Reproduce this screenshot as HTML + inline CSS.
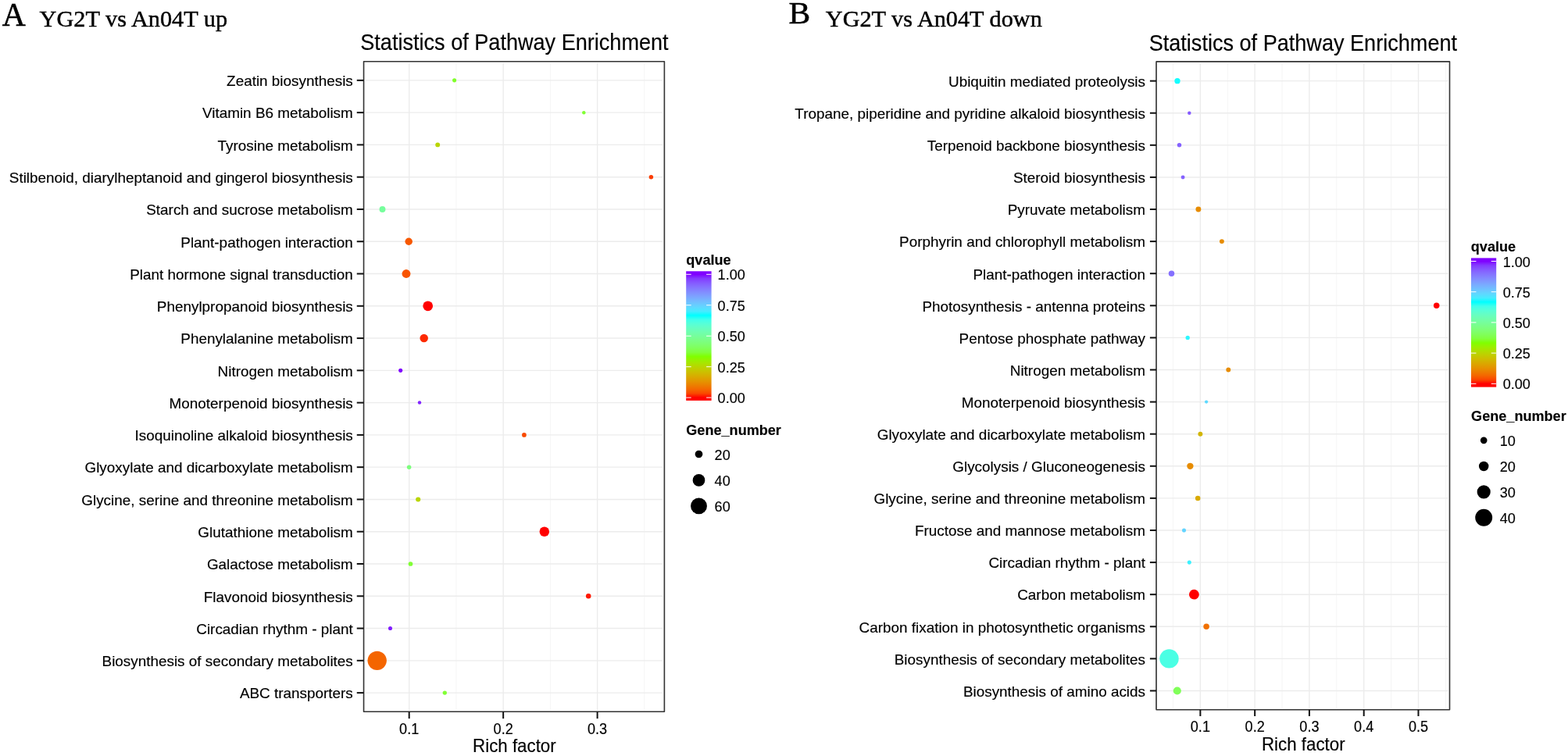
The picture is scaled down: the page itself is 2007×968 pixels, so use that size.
<!DOCTYPE html>
<html><head><meta charset="utf-8"><title>Pathway enrichment</title>
<style>html,body{margin:0;padding:0;background:#fff;}svg{display:block;}</style></head>
<body><svg width="2007" height="968" viewBox="0 0 2007 968">
<rect width="2007" height="968" fill="#fff"/>
<g>
<line x1="583.92" y1="80.7" x2="583.92" y2="909.3" stroke="#f2f2f2" stroke-width="0.8"/>
<line x1="704.38" y1="80.7" x2="704.38" y2="909.3" stroke="#f2f2f2" stroke-width="0.8"/>
<line x1="824.83" y1="80.7" x2="824.83" y2="909.3" stroke="#f2f2f2" stroke-width="0.8"/>
<line x1="523.70" y1="80.7" x2="523.70" y2="909.3" stroke="#ececec" stroke-width="1.4"/>
<line x1="644.15" y1="80.7" x2="644.15" y2="909.3" stroke="#ececec" stroke-width="1.4"/>
<line x1="764.60" y1="80.7" x2="764.60" y2="909.3" stroke="#ececec" stroke-width="1.4"/>
<line x1="467.55" y1="102.86" x2="848.4" y2="102.86" stroke="#ececec" stroke-width="1.4"/>
<line x1="467.55" y1="144.14" x2="848.4" y2="144.14" stroke="#ececec" stroke-width="1.4"/>
<line x1="467.55" y1="185.41" x2="848.4" y2="185.41" stroke="#ececec" stroke-width="1.4"/>
<line x1="467.55" y1="226.69" x2="848.4" y2="226.69" stroke="#ececec" stroke-width="1.4"/>
<line x1="467.55" y1="267.96" x2="848.4" y2="267.96" stroke="#ececec" stroke-width="1.4"/>
<line x1="467.55" y1="309.24" x2="848.4" y2="309.24" stroke="#ececec" stroke-width="1.4"/>
<line x1="467.55" y1="350.52" x2="848.4" y2="350.52" stroke="#ececec" stroke-width="1.4"/>
<line x1="467.55" y1="391.79" x2="848.4" y2="391.79" stroke="#ececec" stroke-width="1.4"/>
<line x1="467.55" y1="433.07" x2="848.4" y2="433.07" stroke="#ececec" stroke-width="1.4"/>
<line x1="467.55" y1="474.34" x2="848.4" y2="474.34" stroke="#ececec" stroke-width="1.4"/>
<line x1="467.55" y1="515.62" x2="848.4" y2="515.62" stroke="#ececec" stroke-width="1.4"/>
<line x1="467.55" y1="556.90" x2="848.4" y2="556.90" stroke="#ececec" stroke-width="1.4"/>
<line x1="467.55" y1="598.17" x2="848.4" y2="598.17" stroke="#ececec" stroke-width="1.4"/>
<line x1="467.55" y1="639.45" x2="848.4" y2="639.45" stroke="#ececec" stroke-width="1.4"/>
<line x1="467.55" y1="680.72" x2="848.4" y2="680.72" stroke="#ececec" stroke-width="1.4"/>
<line x1="467.55" y1="722.00" x2="848.4" y2="722.00" stroke="#ececec" stroke-width="1.4"/>
<line x1="467.55" y1="763.28" x2="848.4" y2="763.28" stroke="#ececec" stroke-width="1.4"/>
<line x1="467.55" y1="804.55" x2="848.4" y2="804.55" stroke="#ececec" stroke-width="1.4"/>
<line x1="467.55" y1="845.83" x2="848.4" y2="845.83" stroke="#ececec" stroke-width="1.4"/>
<line x1="467.55" y1="887.10" x2="848.4" y2="887.10" stroke="#ececec" stroke-width="1.4"/>
<circle cx="581.60" cy="102.86" r="2.55" fill="#80ff29"/>
<circle cx="747.30" cy="144.14" r="2.25" fill="#81ff35"/>
<circle cx="560.20" cy="185.41" r="2.95" fill="#b9d500"/>
<circle cx="833.40" cy="226.69" r="2.75" fill="#fb3d00"/>
<circle cx="489.50" cy="267.96" r="3.95" fill="#76fe9c"/>
<circle cx="523.20" cy="309.24" r="4.75" fill="#f75800"/>
<circle cx="520.00" cy="350.52" r="5.45" fill="#f85400"/>
<circle cx="547.70" cy="391.79" r="6.35" fill="#ff0000"/>
<circle cx="542.70" cy="433.07" r="5.25" fill="#fd2900"/>
<circle cx="512.70" cy="474.34" r="2.55" fill="#8000ff"/>
<circle cx="537.00" cy="515.62" r="2.25" fill="#8225ff"/>
<circle cx="670.90" cy="556.90" r="2.85" fill="#f94900"/>
<circle cx="523.60" cy="598.17" r="2.75" fill="#7dfe7d"/>
<circle cx="535.20" cy="639.45" r="3.05" fill="#b9d500"/>
<circle cx="696.80" cy="680.72" r="6.25" fill="#ff0000"/>
<circle cx="525.50" cy="722.00" r="2.85" fill="#81ff35"/>
<circle cx="753.20" cy="763.28" r="3.25" fill="#fe1800"/>
<circle cx="499.50" cy="804.55" r="2.55" fill="#811dff"/>
<circle cx="482.70" cy="845.83" r="12.20" fill="#f46500"/>
<circle cx="569.30" cy="887.10" r="2.65" fill="#81ff35"/>
<rect x="465.55" y="78.7" width="384.85" height="832.60" fill="none" stroke="#333" stroke-width="1.6" stroke-linejoin="round"/>
<line x1="456.75" y1="102.86" x2="465.55" y2="102.86" stroke="#111" stroke-width="2.0"/>
<text transform="translate(451.80,110.16) scale(1,1.02)" font-family="'Liberation Sans', Arial, Helvetica, sans-serif" font-size="18.9" text-anchor="end" stroke="#000" stroke-width="0.15" fill="#000">Zeatin biosynthesis</text>
<line x1="456.75" y1="144.14" x2="465.55" y2="144.14" stroke="#111" stroke-width="2.0"/>
<text transform="translate(451.80,151.44) scale(1,1.02)" font-family="'Liberation Sans', Arial, Helvetica, sans-serif" font-size="18.9" text-anchor="end" stroke="#000" stroke-width="0.15" fill="#000">Vitamin B6 metabolism</text>
<line x1="456.75" y1="185.41" x2="465.55" y2="185.41" stroke="#111" stroke-width="2.0"/>
<text transform="translate(451.80,192.71) scale(1,1.02)" font-family="'Liberation Sans', Arial, Helvetica, sans-serif" font-size="18.9" text-anchor="end" stroke="#000" stroke-width="0.15" fill="#000">Tyrosine metabolism</text>
<line x1="456.75" y1="226.69" x2="465.55" y2="226.69" stroke="#111" stroke-width="2.0"/>
<text transform="translate(451.80,233.99) scale(1,1.02)" font-family="'Liberation Sans', Arial, Helvetica, sans-serif" font-size="18.9" text-anchor="end" stroke="#000" stroke-width="0.15" fill="#000">Stilbenoid, diarylheptanoid and gingerol biosynthesis</text>
<line x1="456.75" y1="267.96" x2="465.55" y2="267.96" stroke="#111" stroke-width="2.0"/>
<text transform="translate(451.80,275.26) scale(1,1.02)" font-family="'Liberation Sans', Arial, Helvetica, sans-serif" font-size="18.9" text-anchor="end" stroke="#000" stroke-width="0.15" fill="#000">Starch and sucrose metabolism</text>
<line x1="456.75" y1="309.24" x2="465.55" y2="309.24" stroke="#111" stroke-width="2.0"/>
<text transform="translate(451.80,316.54) scale(1,1.02)" font-family="'Liberation Sans', Arial, Helvetica, sans-serif" font-size="18.9" text-anchor="end" stroke="#000" stroke-width="0.15" fill="#000">Plant-pathogen interaction</text>
<line x1="456.75" y1="350.52" x2="465.55" y2="350.52" stroke="#111" stroke-width="2.0"/>
<text transform="translate(451.80,357.82) scale(1,1.02)" font-family="'Liberation Sans', Arial, Helvetica, sans-serif" font-size="18.9" text-anchor="end" stroke="#000" stroke-width="0.15" fill="#000">Plant hormone signal transduction</text>
<line x1="456.75" y1="391.79" x2="465.55" y2="391.79" stroke="#111" stroke-width="2.0"/>
<text transform="translate(451.80,399.09) scale(1,1.02)" font-family="'Liberation Sans', Arial, Helvetica, sans-serif" font-size="18.9" text-anchor="end" stroke="#000" stroke-width="0.15" fill="#000">Phenylpropanoid biosynthesis</text>
<line x1="456.75" y1="433.07" x2="465.55" y2="433.07" stroke="#111" stroke-width="2.0"/>
<text transform="translate(451.80,440.37) scale(1,1.02)" font-family="'Liberation Sans', Arial, Helvetica, sans-serif" font-size="18.9" text-anchor="end" stroke="#000" stroke-width="0.15" fill="#000">Phenylalanine metabolism</text>
<line x1="456.75" y1="474.34" x2="465.55" y2="474.34" stroke="#111" stroke-width="2.0"/>
<text transform="translate(451.80,481.64) scale(1,1.02)" font-family="'Liberation Sans', Arial, Helvetica, sans-serif" font-size="18.9" text-anchor="end" stroke="#000" stroke-width="0.15" fill="#000">Nitrogen metabolism</text>
<line x1="456.75" y1="515.62" x2="465.55" y2="515.62" stroke="#111" stroke-width="2.0"/>
<text transform="translate(451.80,522.92) scale(1,1.02)" font-family="'Liberation Sans', Arial, Helvetica, sans-serif" font-size="18.9" text-anchor="end" stroke="#000" stroke-width="0.15" fill="#000">Monoterpenoid biosynthesis</text>
<line x1="456.75" y1="556.90" x2="465.55" y2="556.90" stroke="#111" stroke-width="2.0"/>
<text transform="translate(451.80,564.20) scale(1,1.02)" font-family="'Liberation Sans', Arial, Helvetica, sans-serif" font-size="18.9" text-anchor="end" stroke="#000" stroke-width="0.15" fill="#000">Isoquinoline alkaloid biosynthesis</text>
<line x1="456.75" y1="598.17" x2="465.55" y2="598.17" stroke="#111" stroke-width="2.0"/>
<text transform="translate(451.80,605.47) scale(1,1.02)" font-family="'Liberation Sans', Arial, Helvetica, sans-serif" font-size="18.9" text-anchor="end" stroke="#000" stroke-width="0.15" fill="#000">Glyoxylate and dicarboxylate metabolism</text>
<line x1="456.75" y1="639.45" x2="465.55" y2="639.45" stroke="#111" stroke-width="2.0"/>
<text transform="translate(451.80,646.75) scale(1,1.02)" font-family="'Liberation Sans', Arial, Helvetica, sans-serif" font-size="18.9" text-anchor="end" stroke="#000" stroke-width="0.15" fill="#000">Glycine, serine and threonine metabolism</text>
<line x1="456.75" y1="680.72" x2="465.55" y2="680.72" stroke="#111" stroke-width="2.0"/>
<text transform="translate(451.80,688.02) scale(1,1.02)" font-family="'Liberation Sans', Arial, Helvetica, sans-serif" font-size="18.9" text-anchor="end" stroke="#000" stroke-width="0.15" fill="#000">Glutathione metabolism</text>
<line x1="456.75" y1="722.00" x2="465.55" y2="722.00" stroke="#111" stroke-width="2.0"/>
<text transform="translate(451.80,729.30) scale(1,1.02)" font-family="'Liberation Sans', Arial, Helvetica, sans-serif" font-size="18.9" text-anchor="end" stroke="#000" stroke-width="0.15" fill="#000">Galactose metabolism</text>
<line x1="456.75" y1="763.28" x2="465.55" y2="763.28" stroke="#111" stroke-width="2.0"/>
<text transform="translate(451.80,770.58) scale(1,1.02)" font-family="'Liberation Sans', Arial, Helvetica, sans-serif" font-size="18.9" text-anchor="end" stroke="#000" stroke-width="0.15" fill="#000">Flavonoid biosynthesis</text>
<line x1="456.75" y1="804.55" x2="465.55" y2="804.55" stroke="#111" stroke-width="2.0"/>
<text transform="translate(451.80,811.85) scale(1,1.02)" font-family="'Liberation Sans', Arial, Helvetica, sans-serif" font-size="18.9" text-anchor="end" stroke="#000" stroke-width="0.15" fill="#000">Circadian rhythm - plant</text>
<line x1="456.75" y1="845.83" x2="465.55" y2="845.83" stroke="#111" stroke-width="2.0"/>
<text transform="translate(451.80,853.13) scale(1,1.02)" font-family="'Liberation Sans', Arial, Helvetica, sans-serif" font-size="18.9" text-anchor="end" stroke="#000" stroke-width="0.15" fill="#000">Biosynthesis of secondary metabolites</text>
<line x1="456.75" y1="887.10" x2="465.55" y2="887.10" stroke="#111" stroke-width="2.0"/>
<text transform="translate(451.80,894.40) scale(1,1.02)" font-family="'Liberation Sans', Arial, Helvetica, sans-serif" font-size="18.9" text-anchor="end" stroke="#000" stroke-width="0.15" fill="#000">ABC transporters</text>
<line x1="523.70" y1="911.3" x2="523.70" y2="920.10" stroke="#111" stroke-width="2.0"/>
<text transform="translate(523.70,939.60) scale(1,1.09)" font-family="'Liberation Sans', Arial, Helvetica, sans-serif" font-size="18.1" text-anchor="middle" stroke="#000" stroke-width="0.15" fill="#000">0.1</text>
<line x1="644.15" y1="911.3" x2="644.15" y2="920.10" stroke="#111" stroke-width="2.0"/>
<text transform="translate(644.15,939.60) scale(1,1.09)" font-family="'Liberation Sans', Arial, Helvetica, sans-serif" font-size="18.1" text-anchor="middle" stroke="#000" stroke-width="0.15" fill="#000">0.2</text>
<line x1="764.60" y1="911.3" x2="764.60" y2="920.10" stroke="#111" stroke-width="2.0"/>
<text transform="translate(764.60,939.60) scale(1,1.09)" font-family="'Liberation Sans', Arial, Helvetica, sans-serif" font-size="18.1" text-anchor="middle" stroke="#000" stroke-width="0.15" fill="#000">0.3</text>
<text transform="translate(658.40,963.30) scale(1,1.04)" font-family="'Liberation Sans', Arial, Helvetica, sans-serif" font-size="22.3" text-anchor="middle" stroke="#000" stroke-width="0.15" fill="#000">Rich factor</text>
<text transform="translate(658.45,64.40) scale(1,1.07)" font-family="'Liberation Sans', Arial, Helvetica, sans-serif" font-size="27.1" text-anchor="middle" stroke="#000" stroke-width="0.15" fill="#000">Statistics of Pathway Enrichment</text>
<line x1="1501.49" y1="80.9" x2="1501.49" y2="906.8" stroke="#f2f2f2" stroke-width="0.8"/>
<line x1="1571.26" y1="80.9" x2="1571.26" y2="906.8" stroke="#f2f2f2" stroke-width="0.8"/>
<line x1="1641.04" y1="80.9" x2="1641.04" y2="906.8" stroke="#f2f2f2" stroke-width="0.8"/>
<line x1="1710.81" y1="80.9" x2="1710.81" y2="906.8" stroke="#f2f2f2" stroke-width="0.8"/>
<line x1="1780.59" y1="80.9" x2="1780.59" y2="906.8" stroke="#f2f2f2" stroke-width="0.8"/>
<line x1="1850.36" y1="80.9" x2="1850.36" y2="906.8" stroke="#f2f2f2" stroke-width="0.8"/>
<line x1="1536.38" y1="80.9" x2="1536.38" y2="906.8" stroke="#ececec" stroke-width="1.4"/>
<line x1="1606.15" y1="80.9" x2="1606.15" y2="906.8" stroke="#ececec" stroke-width="1.4"/>
<line x1="1675.92" y1="80.9" x2="1675.92" y2="906.8" stroke="#ececec" stroke-width="1.4"/>
<line x1="1745.70" y1="80.9" x2="1745.70" y2="906.8" stroke="#ececec" stroke-width="1.4"/>
<line x1="1815.47" y1="80.9" x2="1815.47" y2="906.8" stroke="#ececec" stroke-width="1.4"/>
<line x1="1482.1" y1="103.64" x2="1853.5" y2="103.64" stroke="#ececec" stroke-width="1.4"/>
<line x1="1482.1" y1="144.74" x2="1853.5" y2="144.74" stroke="#ececec" stroke-width="1.4"/>
<line x1="1482.1" y1="185.83" x2="1853.5" y2="185.83" stroke="#ececec" stroke-width="1.4"/>
<line x1="1482.1" y1="226.93" x2="1853.5" y2="226.93" stroke="#ececec" stroke-width="1.4"/>
<line x1="1482.1" y1="268.03" x2="1853.5" y2="268.03" stroke="#ececec" stroke-width="1.4"/>
<line x1="1482.1" y1="309.12" x2="1853.5" y2="309.12" stroke="#ececec" stroke-width="1.4"/>
<line x1="1482.1" y1="350.22" x2="1853.5" y2="350.22" stroke="#ececec" stroke-width="1.4"/>
<line x1="1482.1" y1="391.32" x2="1853.5" y2="391.32" stroke="#ececec" stroke-width="1.4"/>
<line x1="1482.1" y1="432.42" x2="1853.5" y2="432.42" stroke="#ececec" stroke-width="1.4"/>
<line x1="1482.1" y1="473.51" x2="1853.5" y2="473.51" stroke="#ececec" stroke-width="1.4"/>
<line x1="1482.1" y1="514.61" x2="1853.5" y2="514.61" stroke="#ececec" stroke-width="1.4"/>
<line x1="1482.1" y1="555.71" x2="1853.5" y2="555.71" stroke="#ececec" stroke-width="1.4"/>
<line x1="1482.1" y1="596.80" x2="1853.5" y2="596.80" stroke="#ececec" stroke-width="1.4"/>
<line x1="1482.1" y1="637.90" x2="1853.5" y2="637.90" stroke="#ececec" stroke-width="1.4"/>
<line x1="1482.1" y1="679.00" x2="1853.5" y2="679.00" stroke="#ececec" stroke-width="1.4"/>
<line x1="1482.1" y1="720.10" x2="1853.5" y2="720.10" stroke="#ececec" stroke-width="1.4"/>
<line x1="1482.1" y1="761.19" x2="1853.5" y2="761.19" stroke="#ececec" stroke-width="1.4"/>
<line x1="1482.1" y1="802.29" x2="1853.5" y2="802.29" stroke="#ececec" stroke-width="1.4"/>
<line x1="1482.1" y1="843.39" x2="1853.5" y2="843.39" stroke="#ececec" stroke-width="1.4"/>
<line x1="1482.1" y1="884.48" x2="1853.5" y2="884.48" stroke="#ececec" stroke-width="1.4"/>
<circle cx="1507.00" cy="103.64" r="3.65" fill="#14fdff"/>
<circle cx="1522.30" cy="144.74" r="2.25" fill="#855aff"/>
<circle cx="1509.50" cy="185.83" r="2.75" fill="#8562ff"/>
<circle cx="1514.10" cy="226.93" r="2.45" fill="#8562ff"/>
<circle cx="1533.90" cy="268.03" r="3.45" fill="#e78c00"/>
<circle cx="1563.90" cy="309.12" r="2.95" fill="#e78c00"/>
<circle cx="1499.50" cy="350.22" r="3.75" fill="#8570ff"/>
<circle cx="1838.70" cy="391.32" r="3.75" fill="#ff0000"/>
<circle cx="1520.20" cy="432.42" r="2.65" fill="#2df7ff"/>
<circle cx="1572.30" cy="473.51" r="2.95" fill="#e78c00"/>
<circle cx="1544.10" cy="514.61" r="2.15" fill="#5dd9ff"/>
<circle cx="1536.40" cy="555.71" r="2.95" fill="#d2b500"/>
<circle cx="1523.40" cy="596.80" r="4.15" fill="#e78c00"/>
<circle cx="1533.20" cy="637.90" r="3.25" fill="#d9aa00"/>
<circle cx="1515.50" cy="679.00" r="2.55" fill="#63d4ff"/>
<circle cx="1522.30" cy="720.10" r="2.55" fill="#3cf1ff"/>
<circle cx="1528.40" cy="761.19" r="6.35" fill="#ff0000"/>
<circle cx="1544.10" cy="802.29" r="3.75" fill="#f17100"/>
<circle cx="1496.50" cy="843.39" r="12.20" fill="#4affe4"/>
<circle cx="1506.80" cy="884.48" r="5.05" fill="#80ff59"/>
<rect x="1480.1" y="78.9" width="375.40" height="829.90" fill="none" stroke="#333" stroke-width="1.6" stroke-linejoin="round"/>
<line x1="1480.1" y1="79.7" x2="1480.1" y2="908.0" stroke="#555" stroke-width="1.7"/>
<line x1="1471.90" y1="103.64" x2="1480.1" y2="103.64" stroke="#111" stroke-width="2.0"/>
<text transform="translate(1466.00,110.94) scale(1,1.02)" font-family="'Liberation Sans', Arial, Helvetica, sans-serif" font-size="18.9" text-anchor="end" stroke="#000" stroke-width="0.15" fill="#000">Ubiquitin mediated proteolysis</text>
<line x1="1471.90" y1="144.74" x2="1480.1" y2="144.74" stroke="#111" stroke-width="2.0"/>
<text transform="translate(1466.00,152.04) scale(1,1.02)" font-family="'Liberation Sans', Arial, Helvetica, sans-serif" font-size="18.9" text-anchor="end" stroke="#000" stroke-width="0.15" fill="#000">Tropane, piperidine and pyridine alkaloid biosynthesis</text>
<line x1="1471.90" y1="185.83" x2="1480.1" y2="185.83" stroke="#111" stroke-width="2.0"/>
<text transform="translate(1466.00,193.13) scale(1,1.02)" font-family="'Liberation Sans', Arial, Helvetica, sans-serif" font-size="18.9" text-anchor="end" stroke="#000" stroke-width="0.15" fill="#000">Terpenoid backbone biosynthesis</text>
<line x1="1471.90" y1="226.93" x2="1480.1" y2="226.93" stroke="#111" stroke-width="2.0"/>
<text transform="translate(1466.00,234.23) scale(1,1.02)" font-family="'Liberation Sans', Arial, Helvetica, sans-serif" font-size="18.9" text-anchor="end" stroke="#000" stroke-width="0.15" fill="#000">Steroid biosynthesis</text>
<line x1="1471.90" y1="268.03" x2="1480.1" y2="268.03" stroke="#111" stroke-width="2.0"/>
<text transform="translate(1466.00,275.33) scale(1,1.02)" font-family="'Liberation Sans', Arial, Helvetica, sans-serif" font-size="18.9" text-anchor="end" stroke="#000" stroke-width="0.15" fill="#000">Pyruvate metabolism</text>
<line x1="1471.90" y1="309.12" x2="1480.1" y2="309.12" stroke="#111" stroke-width="2.0"/>
<text transform="translate(1466.00,316.43) scale(1,1.02)" font-family="'Liberation Sans', Arial, Helvetica, sans-serif" font-size="18.9" text-anchor="end" stroke="#000" stroke-width="0.15" fill="#000">Porphyrin and chlorophyll metabolism</text>
<line x1="1471.90" y1="350.22" x2="1480.1" y2="350.22" stroke="#111" stroke-width="2.0"/>
<text transform="translate(1466.00,357.52) scale(1,1.02)" font-family="'Liberation Sans', Arial, Helvetica, sans-serif" font-size="18.9" text-anchor="end" stroke="#000" stroke-width="0.15" fill="#000">Plant-pathogen interaction</text>
<line x1="1471.90" y1="391.32" x2="1480.1" y2="391.32" stroke="#111" stroke-width="2.0"/>
<text transform="translate(1466.00,398.62) scale(1,1.02)" font-family="'Liberation Sans', Arial, Helvetica, sans-serif" font-size="18.9" text-anchor="end" stroke="#000" stroke-width="0.15" fill="#000">Photosynthesis - antenna proteins</text>
<line x1="1471.90" y1="432.42" x2="1480.1" y2="432.42" stroke="#111" stroke-width="2.0"/>
<text transform="translate(1466.00,439.72) scale(1,1.02)" font-family="'Liberation Sans', Arial, Helvetica, sans-serif" font-size="18.9" text-anchor="end" stroke="#000" stroke-width="0.15" fill="#000">Pentose phosphate pathway</text>
<line x1="1471.90" y1="473.51" x2="1480.1" y2="473.51" stroke="#111" stroke-width="2.0"/>
<text transform="translate(1466.00,480.81) scale(1,1.02)" font-family="'Liberation Sans', Arial, Helvetica, sans-serif" font-size="18.9" text-anchor="end" stroke="#000" stroke-width="0.15" fill="#000">Nitrogen metabolism</text>
<line x1="1471.90" y1="514.61" x2="1480.1" y2="514.61" stroke="#111" stroke-width="2.0"/>
<text transform="translate(1466.00,521.91) scale(1,1.02)" font-family="'Liberation Sans', Arial, Helvetica, sans-serif" font-size="18.9" text-anchor="end" stroke="#000" stroke-width="0.15" fill="#000">Monoterpenoid biosynthesis</text>
<line x1="1471.90" y1="555.71" x2="1480.1" y2="555.71" stroke="#111" stroke-width="2.0"/>
<text transform="translate(1466.00,563.01) scale(1,1.02)" font-family="'Liberation Sans', Arial, Helvetica, sans-serif" font-size="18.9" text-anchor="end" stroke="#000" stroke-width="0.15" fill="#000">Glyoxylate and dicarboxylate metabolism</text>
<line x1="1471.90" y1="596.80" x2="1480.1" y2="596.80" stroke="#111" stroke-width="2.0"/>
<text transform="translate(1466.00,604.10) scale(1,1.02)" font-family="'Liberation Sans', Arial, Helvetica, sans-serif" font-size="18.9" text-anchor="end" stroke="#000" stroke-width="0.15" fill="#000">Glycolysis / Gluconeogenesis</text>
<line x1="1471.90" y1="637.90" x2="1480.1" y2="637.90" stroke="#111" stroke-width="2.0"/>
<text transform="translate(1466.00,645.20) scale(1,1.02)" font-family="'Liberation Sans', Arial, Helvetica, sans-serif" font-size="18.9" text-anchor="end" stroke="#000" stroke-width="0.15" fill="#000">Glycine, serine and threonine metabolism</text>
<line x1="1471.90" y1="679.00" x2="1480.1" y2="679.00" stroke="#111" stroke-width="2.0"/>
<text transform="translate(1466.00,686.30) scale(1,1.02)" font-family="'Liberation Sans', Arial, Helvetica, sans-serif" font-size="18.9" text-anchor="end" stroke="#000" stroke-width="0.15" fill="#000">Fructose and mannose metabolism</text>
<line x1="1471.90" y1="720.10" x2="1480.1" y2="720.10" stroke="#111" stroke-width="2.0"/>
<text transform="translate(1466.00,727.39) scale(1,1.02)" font-family="'Liberation Sans', Arial, Helvetica, sans-serif" font-size="18.9" text-anchor="end" stroke="#000" stroke-width="0.15" fill="#000">Circadian rhythm - plant</text>
<line x1="1471.90" y1="761.19" x2="1480.1" y2="761.19" stroke="#111" stroke-width="2.0"/>
<text transform="translate(1466.00,768.49) scale(1,1.02)" font-family="'Liberation Sans', Arial, Helvetica, sans-serif" font-size="18.9" text-anchor="end" stroke="#000" stroke-width="0.15" fill="#000">Carbon metabolism</text>
<line x1="1471.90" y1="802.29" x2="1480.1" y2="802.29" stroke="#111" stroke-width="2.0"/>
<text transform="translate(1466.00,809.59) scale(1,1.02)" font-family="'Liberation Sans', Arial, Helvetica, sans-serif" font-size="18.9" text-anchor="end" stroke="#000" stroke-width="0.15" fill="#000">Carbon fixation in photosynthetic organisms</text>
<line x1="1471.90" y1="843.39" x2="1480.1" y2="843.39" stroke="#111" stroke-width="2.0"/>
<text transform="translate(1466.00,850.69) scale(1,1.02)" font-family="'Liberation Sans', Arial, Helvetica, sans-serif" font-size="18.9" text-anchor="end" stroke="#000" stroke-width="0.15" fill="#000">Biosynthesis of secondary metabolites</text>
<line x1="1471.90" y1="884.48" x2="1480.1" y2="884.48" stroke="#111" stroke-width="2.0"/>
<text transform="translate(1466.00,891.78) scale(1,1.02)" font-family="'Liberation Sans', Arial, Helvetica, sans-serif" font-size="18.9" text-anchor="end" stroke="#000" stroke-width="0.15" fill="#000">Biosynthesis of amino acids</text>
<line x1="1536.38" y1="908.8" x2="1536.38" y2="917.00" stroke="#111" stroke-width="2.0"/>
<text transform="translate(1536.38,936.90) scale(1,1.09)" font-family="'Liberation Sans', Arial, Helvetica, sans-serif" font-size="18.1" text-anchor="middle" stroke="#000" stroke-width="0.15" fill="#000">0.1</text>
<line x1="1606.15" y1="908.8" x2="1606.15" y2="917.00" stroke="#111" stroke-width="2.0"/>
<text transform="translate(1606.15,936.90) scale(1,1.09)" font-family="'Liberation Sans', Arial, Helvetica, sans-serif" font-size="18.1" text-anchor="middle" stroke="#000" stroke-width="0.15" fill="#000">0.2</text>
<line x1="1675.92" y1="908.8" x2="1675.92" y2="917.00" stroke="#111" stroke-width="2.0"/>
<text transform="translate(1675.92,936.90) scale(1,1.09)" font-family="'Liberation Sans', Arial, Helvetica, sans-serif" font-size="18.1" text-anchor="middle" stroke="#000" stroke-width="0.15" fill="#000">0.3</text>
<line x1="1745.70" y1="908.8" x2="1745.70" y2="917.00" stroke="#111" stroke-width="2.0"/>
<text transform="translate(1745.70,936.90) scale(1,1.09)" font-family="'Liberation Sans', Arial, Helvetica, sans-serif" font-size="18.1" text-anchor="middle" stroke="#000" stroke-width="0.15" fill="#000">0.4</text>
<line x1="1815.47" y1="908.8" x2="1815.47" y2="917.00" stroke="#111" stroke-width="2.0"/>
<text transform="translate(1815.47,936.90) scale(1,1.09)" font-family="'Liberation Sans', Arial, Helvetica, sans-serif" font-size="18.1" text-anchor="middle" stroke="#000" stroke-width="0.15" fill="#000">0.5</text>
<text transform="translate(1668.30,960.60) scale(1,1.04)" font-family="'Liberation Sans', Arial, Helvetica, sans-serif" font-size="22.3" text-anchor="middle" stroke="#000" stroke-width="0.15" fill="#000">Rich factor</text>
<text transform="translate(1667.85,65.10) scale(1,1.07)" font-family="'Liberation Sans', Arial, Helvetica, sans-serif" font-size="27.1" text-anchor="middle" stroke="#000" stroke-width="0.15" fill="#000">Statistics of Pathway Enrichment</text>
<defs><linearGradient id="ga" gradientUnits="userSpaceOnUse" x1="0" y1="509.1" x2="0" y2="351.3"><stop offset="0.0000" stop-color="#ff0000"/><stop offset="0.0333" stop-color="#fa4700"/><stop offset="0.0667" stop-color="#f46700"/><stop offset="0.1000" stop-color="#ec7f00"/><stop offset="0.1333" stop-color="#e49500"/><stop offset="0.1667" stop-color="#daa800"/><stop offset="0.2000" stop-color="#cfbb00"/><stop offset="0.2333" stop-color="#c1cd00"/><stop offset="0.2667" stop-color="#b0de00"/><stop offset="0.3000" stop-color="#9bef00"/><stop offset="0.3333" stop-color="#80ff00"/><stop offset="0.3667" stop-color="#81ff3c"/><stop offset="0.4000" stop-color="#80ff59"/><stop offset="0.4333" stop-color="#7eff72"/><stop offset="0.4667" stop-color="#7bfe87"/><stop offset="0.5000" stop-color="#76fe9c"/><stop offset="0.5333" stop-color="#6ffeb0"/><stop offset="0.5667" stop-color="#65fec4"/><stop offset="0.6000" stop-color="#56ffd8"/><stop offset="0.6333" stop-color="#40ffeb"/><stop offset="0.6667" stop-color="#00ffff"/><stop offset="0.7000" stop-color="#47ebff"/><stop offset="0.7333" stop-color="#5fd8ff"/><stop offset="0.7667" stop-color="#6ec4ff"/><stop offset="0.8000" stop-color="#78b0ff"/><stop offset="0.8333" stop-color="#7f9bff"/><stop offset="0.8667" stop-color="#8386ff"/><stop offset="0.9000" stop-color="#8570ff"/><stop offset="0.9333" stop-color="#8558ff"/><stop offset="0.9667" stop-color="#833bff"/><stop offset="1.0000" stop-color="#8000ff"/></linearGradient></defs>
<rect x="878.2" y="347.3" width="32.40" height="165.60" fill="url(#ga)"/>
<line x1="878.2" y1="509.10" x2="884.68" y2="509.10" stroke="#fff" stroke-width="1"/>
<line x1="904.12" y1="509.10" x2="910.6" y2="509.10" stroke="#fff" stroke-width="1"/>
<text transform="translate(918.60,516.10) scale(1,1.0)" font-family="'Liberation Sans', Arial, Helvetica, sans-serif" font-size="18.05" text-anchor="start" stroke="#000" stroke-width="0.15" fill="#000">0.00</text>
<line x1="878.2" y1="469.65" x2="884.68" y2="469.65" stroke="#fff" stroke-width="1"/>
<line x1="904.12" y1="469.65" x2="910.6" y2="469.65" stroke="#fff" stroke-width="1"/>
<text transform="translate(918.60,476.65) scale(1,1.0)" font-family="'Liberation Sans', Arial, Helvetica, sans-serif" font-size="18.05" text-anchor="start" stroke="#000" stroke-width="0.15" fill="#000">0.25</text>
<line x1="878.2" y1="430.20" x2="884.68" y2="430.20" stroke="#fff" stroke-width="1"/>
<line x1="904.12" y1="430.20" x2="910.6" y2="430.20" stroke="#fff" stroke-width="1"/>
<text transform="translate(918.60,437.20) scale(1,1.0)" font-family="'Liberation Sans', Arial, Helvetica, sans-serif" font-size="18.05" text-anchor="start" stroke="#000" stroke-width="0.15" fill="#000">0.50</text>
<line x1="878.2" y1="390.75" x2="884.68" y2="390.75" stroke="#fff" stroke-width="1"/>
<line x1="904.12" y1="390.75" x2="910.6" y2="390.75" stroke="#fff" stroke-width="1"/>
<text transform="translate(918.60,397.75) scale(1,1.0)" font-family="'Liberation Sans', Arial, Helvetica, sans-serif" font-size="18.05" text-anchor="start" stroke="#000" stroke-width="0.15" fill="#000">0.75</text>
<line x1="878.2" y1="351.30" x2="884.68" y2="351.30" stroke="#fff" stroke-width="1"/>
<line x1="904.12" y1="351.30" x2="910.6" y2="351.30" stroke="#fff" stroke-width="1"/>
<text transform="translate(918.60,358.30) scale(1,1.0)" font-family="'Liberation Sans', Arial, Helvetica, sans-serif" font-size="18.05" text-anchor="start" stroke="#000" stroke-width="0.15" fill="#000">1.00</text>
<text transform="translate(878.30,338.60) scale(1,1.03)" font-family="'Liberation Sans', Arial, Helvetica, sans-serif" font-size="18.1" text-anchor="start" font-weight="bold" stroke="#000" stroke-width="0.15" fill="#000">qvalue</text>
<text transform="translate(878.30,557.00) scale(1,1.03)" font-family="'Liberation Sans', Arial, Helvetica, sans-serif" font-size="18.1" text-anchor="start" font-weight="bold" stroke="#000" stroke-width="0.15" fill="#000">Gene_number</text>
<circle cx="894.5" cy="581.5" r="4.85" fill="#000"/>
<text transform="translate(914.60,588.50) scale(1,1.0)" font-family="'Liberation Sans', Arial, Helvetica, sans-serif" font-size="18.05" text-anchor="start" stroke="#000" stroke-width="0.15" fill="#000">20</text>
<circle cx="894.5" cy="614.9" r="7.85" fill="#000"/>
<text transform="translate(914.60,621.90) scale(1,1.0)" font-family="'Liberation Sans', Arial, Helvetica, sans-serif" font-size="18.05" text-anchor="start" stroke="#000" stroke-width="0.15" fill="#000">40</text>
<circle cx="894.5" cy="647.9" r="10.45" fill="#000"/>
<text transform="translate(914.60,654.90) scale(1,1.0)" font-family="'Liberation Sans', Arial, Helvetica, sans-serif" font-size="18.05" text-anchor="start" stroke="#000" stroke-width="0.15" fill="#000">60</text>
<defs><linearGradient id="gb" gradientUnits="userSpaceOnUse" x1="0" y1="491.3" x2="0" y2="334.5"><stop offset="0.0000" stop-color="#ff0000"/><stop offset="0.0333" stop-color="#fa4700"/><stop offset="0.0667" stop-color="#f46700"/><stop offset="0.1000" stop-color="#ec7f00"/><stop offset="0.1333" stop-color="#e49500"/><stop offset="0.1667" stop-color="#daa800"/><stop offset="0.2000" stop-color="#cfbb00"/><stop offset="0.2333" stop-color="#c1cd00"/><stop offset="0.2667" stop-color="#b0de00"/><stop offset="0.3000" stop-color="#9bef00"/><stop offset="0.3333" stop-color="#80ff00"/><stop offset="0.3667" stop-color="#81ff3c"/><stop offset="0.4000" stop-color="#80ff59"/><stop offset="0.4333" stop-color="#7eff72"/><stop offset="0.4667" stop-color="#7bfe87"/><stop offset="0.5000" stop-color="#76fe9c"/><stop offset="0.5333" stop-color="#6ffeb0"/><stop offset="0.5667" stop-color="#65fec4"/><stop offset="0.6000" stop-color="#56ffd8"/><stop offset="0.6333" stop-color="#40ffeb"/><stop offset="0.6667" stop-color="#00ffff"/><stop offset="0.7000" stop-color="#47ebff"/><stop offset="0.7333" stop-color="#5fd8ff"/><stop offset="0.7667" stop-color="#6ec4ff"/><stop offset="0.8000" stop-color="#78b0ff"/><stop offset="0.8333" stop-color="#7f9bff"/><stop offset="0.8667" stop-color="#8386ff"/><stop offset="0.9000" stop-color="#8570ff"/><stop offset="0.9333" stop-color="#8558ff"/><stop offset="0.9667" stop-color="#833bff"/><stop offset="1.0000" stop-color="#8000ff"/></linearGradient></defs>
<rect x="1883.0" y="330.4" width="32.20" height="165.20" fill="url(#gb)"/>
<line x1="1883.0" y1="491.30" x2="1889.44" y2="491.30" stroke="#fff" stroke-width="1"/>
<line x1="1908.76" y1="491.30" x2="1915.2" y2="491.30" stroke="#fff" stroke-width="1"/>
<text transform="translate(1923.70,498.30) scale(1,1.0)" font-family="'Liberation Sans', Arial, Helvetica, sans-serif" font-size="18.05" text-anchor="start" stroke="#000" stroke-width="0.15" fill="#000">0.00</text>
<line x1="1883.0" y1="452.10" x2="1889.44" y2="452.10" stroke="#fff" stroke-width="1"/>
<line x1="1908.76" y1="452.10" x2="1915.2" y2="452.10" stroke="#fff" stroke-width="1"/>
<text transform="translate(1923.70,459.10) scale(1,1.0)" font-family="'Liberation Sans', Arial, Helvetica, sans-serif" font-size="18.05" text-anchor="start" stroke="#000" stroke-width="0.15" fill="#000">0.25</text>
<line x1="1883.0" y1="412.90" x2="1889.44" y2="412.90" stroke="#fff" stroke-width="1"/>
<line x1="1908.76" y1="412.90" x2="1915.2" y2="412.90" stroke="#fff" stroke-width="1"/>
<text transform="translate(1923.70,419.90) scale(1,1.0)" font-family="'Liberation Sans', Arial, Helvetica, sans-serif" font-size="18.05" text-anchor="start" stroke="#000" stroke-width="0.15" fill="#000">0.50</text>
<line x1="1883.0" y1="373.70" x2="1889.44" y2="373.70" stroke="#fff" stroke-width="1"/>
<line x1="1908.76" y1="373.70" x2="1915.2" y2="373.70" stroke="#fff" stroke-width="1"/>
<text transform="translate(1923.70,380.70) scale(1,1.0)" font-family="'Liberation Sans', Arial, Helvetica, sans-serif" font-size="18.05" text-anchor="start" stroke="#000" stroke-width="0.15" fill="#000">0.75</text>
<line x1="1883.0" y1="334.50" x2="1889.44" y2="334.50" stroke="#fff" stroke-width="1"/>
<line x1="1908.76" y1="334.50" x2="1915.2" y2="334.50" stroke="#fff" stroke-width="1"/>
<text transform="translate(1923.70,341.50) scale(1,1.0)" font-family="'Liberation Sans', Arial, Helvetica, sans-serif" font-size="18.05" text-anchor="start" stroke="#000" stroke-width="0.15" fill="#000">1.00</text>
<text transform="translate(1882.80,321.70) scale(1,1.03)" font-family="'Liberation Sans', Arial, Helvetica, sans-serif" font-size="18.1" text-anchor="start" font-weight="bold" stroke="#000" stroke-width="0.15" fill="#000">qvalue</text>
<text transform="translate(1883.10,539.00) scale(1,1.03)" font-family="'Liberation Sans', Arial, Helvetica, sans-serif" font-size="18.1" text-anchor="start" font-weight="bold" stroke="#000" stroke-width="0.15" fill="#000">Gene_number</text>
<circle cx="1899.2" cy="563.8" r="4.35" fill="#000"/>
<text transform="translate(1919.80,570.80) scale(1,1.0)" font-family="'Liberation Sans', Arial, Helvetica, sans-serif" font-size="18.05" text-anchor="start" stroke="#000" stroke-width="0.15" fill="#000">10</text>
<circle cx="1899.2" cy="597.0" r="6.25" fill="#000"/>
<text transform="translate(1919.80,604.00) scale(1,1.0)" font-family="'Liberation Sans', Arial, Helvetica, sans-serif" font-size="18.05" text-anchor="start" stroke="#000" stroke-width="0.15" fill="#000">20</text>
<circle cx="1899.2" cy="629.9" r="8.55" fill="#000"/>
<text transform="translate(1919.80,636.90) scale(1,1.0)" font-family="'Liberation Sans', Arial, Helvetica, sans-serif" font-size="18.05" text-anchor="start" stroke="#000" stroke-width="0.15" fill="#000">30</text>
<circle cx="1899.2" cy="662.8" r="10.95" fill="#000"/>
<text transform="translate(1919.80,669.80) scale(1,1.0)" font-family="'Liberation Sans', Arial, Helvetica, sans-serif" font-size="18.05" text-anchor="start" stroke="#000" stroke-width="0.15" fill="#000">40</text>
<text transform="translate(2.80,32.80) scale(1,1.0)" font-family="'Liberation Serif', 'Times New Roman', serif" font-size="41.5" text-anchor="start" stroke="#000" stroke-width="0.6" fill="#000">A</text>
<text transform="translate(50.60,34.40) scale(1,1.0)" font-family="'Liberation Serif', 'Times New Roman', serif" font-size="30.3" text-anchor="start" stroke="#000" stroke-width="0.45" fill="#000">YG2T vs An04T up</text>
<text transform="translate(1009.50,29.90) scale(1,0.965)" font-family="'Liberation Serif', 'Times New Roman', serif" font-size="41.5" text-anchor="start" stroke="#000" stroke-width="0.6" fill="#000">B</text>
<text transform="translate(1056.80,34.40) scale(1,1.0)" font-family="'Liberation Serif', 'Times New Roman', serif" font-size="30.25" text-anchor="start" stroke="#000" stroke-width="0.45" fill="#000">YG2T vs An04T down</text>
</g>
</svg></body></html>
